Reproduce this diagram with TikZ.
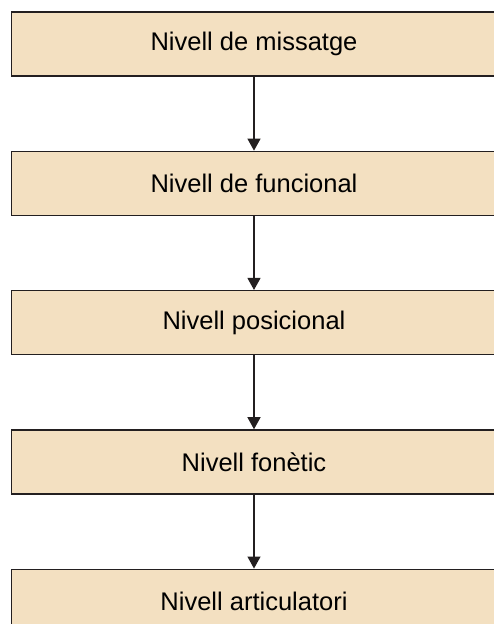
\documentclass[tikz,border=0pt]{standalone}
\usepackage{fontspec}
\setmainfont{Liberation Sans}
\usetikzlibrary{positioning,arrows.meta}
\definecolor{levelfill}{RGB}{243,224,193}
\definecolor{levelline}{RGB}{35,31,32}

\begin{document}
\begin{tikzpicture}[
    x=1pt, y=1pt,
    node distance=74pt,
    every node/.style={font=\fontsize{25.5}{30}\selectfont},
    level/.style={rectangle, draw=levelline, line width=1.3pt, fill=levelfill, minimum width=485pt, minimum height=64pt, inner sep=0pt},
    arrow/.style={-{Triangle[length=12pt, width=13pt]}, line width=1.2pt, levelline},
]
\useasboundingbox (0,0) rectangle (493,624);

% Levels
\node[level] (msg) at (254,580) {Nivell de missatge};
\node[level, below=of msg] (func) {Nivell de funcional};
\node[level, below=of func] (pos) {Nivell posicional};
\node[level, below=of pos] (fon) {Nivell fonètic};
\node[level, below=of fon] (art) {Nivell articulatori};

% Arrows
\draw[arrow] (msg) -- (func);
\draw[arrow] (func) -- (pos);
\draw[arrow] (pos) -- (fon);
\draw[arrow] (fon) -- (art);

\end{tikzpicture}
\end{document}
